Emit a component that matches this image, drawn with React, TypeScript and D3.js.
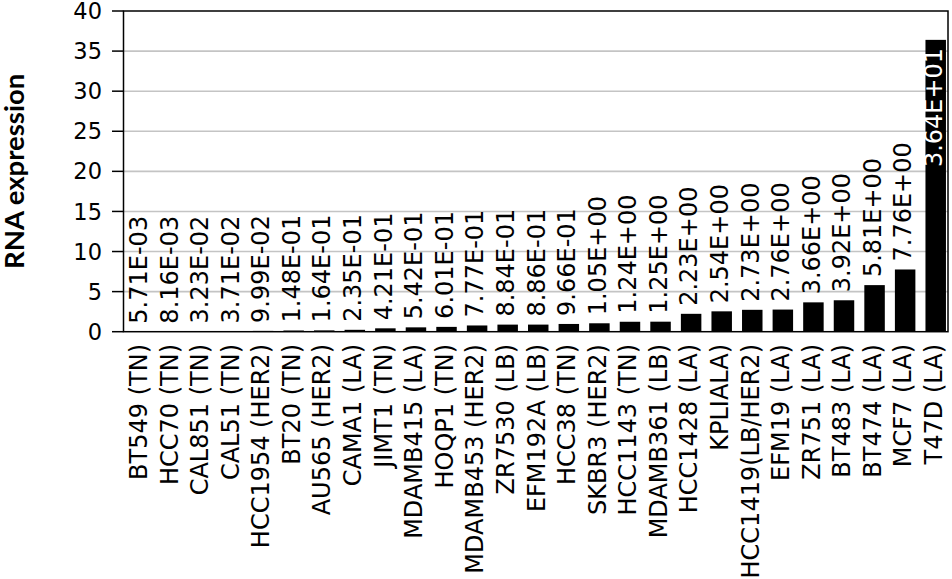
import React from "react";
import * as d3 from "d3";

const categories = [
  "BT549 (TN)", "HCC70 (TN)", "CAL851 (TN)", "CAL51 (TN)", "HCC1954 (HER2)",
  "BT20 (TN)", "AU565 (HER2)", "CAMA1 (LA)", "JIMT1 (TN)", "MDAMB415 (LA)",
  "HOQP1 (TN)", "MDAMB453 (HER2)", "ZR7530 (LB)", "EFM192A (LB)", "HCC38 (TN)",
  "SKBR3 (HER2)", "HCC1143 (TN)", "MDAMB361 (LB)", "HCC1428 (LA)", "KPLIALA)",
  "HCC1419(LB/HER2)", "EFM19 (LA)", "ZR751 (LA)", "BT483 (LA)", "BT474 (LA)",
  "MCF7 (LA)", "T47D (LA)",
];

const values = [
  0.00571, 0.00816, 0.0323, 0.0371, 0.0999, 0.148, 0.164, 0.235, 0.421, 0.542,
  0.601, 0.777, 0.884, 0.886, 0.966, 1.05, 1.24, 1.25, 2.23, 2.54,
  2.73, 2.76, 3.66, 3.92, 5.81, 7.76, 36.4,
];

const valueLabels = [
  "5.71E-03", "8.16E-03", "3.23E-02", "3.71E-02", "9.99E-02", "1.48E-01", "1.64E-01",
  "2.35E-01", "4.21E-01", "5.42E-01", "6.01E-01", "7.77E-01", "8.84E-01", "8.86E-01",
  "9.66E-01", "1.05E+00", "1.24E+00", "1.25E+00", "2.23E+00", "2.54E+00", "2.73E+00",
  "2.76E+00", "3.66E+00", "3.92E+00", "5.81E+00", "7.76E+00", "3.64E+01",
];

const yTicks = [0, 5, 10, 15, 20, 25, 30, 35, 40];
const yTitle = "RNA expression";

const W = 952;
const H = 579;
const plotLeft = 123.5;
const plotRight = 948;
const plotTop = 11;
const plotBottom = 331.7;
const FONT = "'DejaVu Sans', sans-serif";

export default function App() {
  const y = d3.scaleLinear().domain([0, 40]).range([plotBottom, plotTop]);
  const x = d3
    .scaleBand<string>()
    .domain(categories)
    .range([125.5, 951])
    .paddingInner(0.33)
    .paddingOuter(0.165);
  const bw = x.bandwidth();
  const labelSize = 24;
  const approxLabelLen = (s: string) => s.length * 0.56 * labelSize;

  return (
    <svg
      width={W}
      height={H}
      style={{ position: "absolute", left: 0, top: 0, background: "#fff" }}
    >
      <rect x={0} y={0} width={W} height={H} fill="#fff" />
      {yTicks
        .filter((t) => t !== 0 && t !== 40)
        .map((t) => (
          <line
            key={"g" + t}
            x1={plotLeft}
            x2={plotRight}
            y1={y(t)}
            y2={y(t)}
            stroke="#c4c4c4"
            strokeWidth={1.6}
          />
        ))}
      {values.map((v, i) => (
        <rect
          key={"b" + i}
          x={x(categories[i])}
          y={y(v)}
          width={bw}
          height={y(0) - y(v)}
          fill="#000"
        />
      ))}
      <rect
        x={plotLeft}
        y={plotTop}
        width={plotRight - plotLeft}
        height={plotBottom - plotTop}
        fill="none"
        stroke="#000"
        strokeWidth={1.5}
      />
      {yTicks.map((t) => (
        <g key={"t" + t}>
          <line x1={112} x2={plotLeft} y1={y(t)} y2={y(t)} stroke="#000" strokeWidth={1.5} />
          <text
            x={102}
            y={y(t)}
            dy="0.36em"
            textAnchor="end"
            fontFamily={FONT}
            fontSize={22.5}
            fill="#000"
          >
            {t}
          </text>
        </g>
      ))}
      {values.map((v, i) => {
        const cx = (x(categories[i]) as number) + bw / 2;
        const inside = y(v) - 8 - approxLabelLen(valueLabels[i]) < plotTop;
        const yy = inside ? y(v) + 8 : y(v) - 8;
        return (
          <text
            key={"v" + i}
            transform={`translate(${cx},${yy}) rotate(-90)`}
            dy="0.26em"
            textAnchor={inside ? "end" : "start"}
            fontFamily={FONT}
            fontSize={labelSize}
            fill={inside ? "#fff" : "#000"}
          >
            {valueLabels[i]}
          </text>
        );
      })}
      {categories.map((c) => {
        const cx = (x(c) as number) + bw / 2;
        return (
          <text
            key={"c" + c}
            transform={`translate(${cx},344) rotate(-90)`}
            dy="0.26em"
            textAnchor="end"
            fontFamily={FONT}
            fontSize={24}
            fill="#000"
          >
            {c}
          </text>
        );
      })}
      <text
        transform={`translate(24,${(plotTop + plotBottom) / 2}) rotate(-90)`}
        textAnchor="middle"
        fontFamily="Lato, sans-serif"
        fontWeight="bold"
        fontSize={27.5}
        fill="#000"
      >
        {yTitle}
      </text>
    </svg>
  );
}
